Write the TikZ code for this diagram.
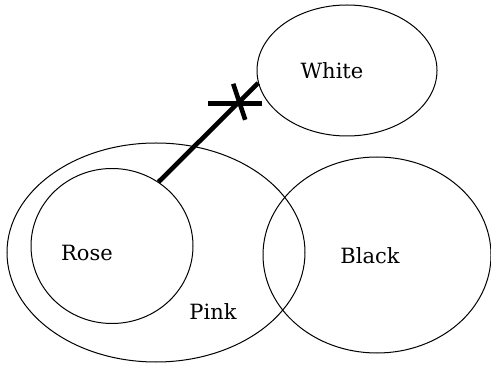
\documentclass[tikz,border=0pt]{standalone}
\usepackage{fontspec}
\setmainfont{DejaVu Serif}
\usetikzlibrary{shapes.geometric, calc}

\begin{document}
\begin{tikzpicture}[
    x = 0.5pt, y = -0.5pt,
    font = \fontsize{10.5}{12}\selectfont,
    set/.style = {ellipse, draw, line width = 0.5pt, inner sep = 0pt},
    word/.style = {inner sep = 0pt, text = black},
    bold/.style = {line width = 2.3pt}
    ]
    \useasboundingbox (0,0) rectangle (491,367);
    \node[
    set,
    minimum width = 149pt,
    minimum height = 109.5pt
    ] (pink) at (156,252.5){};
    \node[
    set,
    minimum width = 81pt,
    minimum height = 77.5pt
    ] (rose) at (112,246){};
    \node[
    set,
    minimum width = 114pt,
    minimum height = 98pt
    ] (black) at (377,255){};
    \node[
    set,
    minimum width = 90pt,
    minimum height = 65.5pt
    ] (white) at (347,70.5){};
    \node[word] (lwhite) at (332,71){White};
    \node[word] (lrose) at (87,253){Rose};
    \node[word] (lblack) at (370,256){Black};
    \node[word] (lpink) at (213,312){Pink};
    \draw[bold] (rose.54.5) -- coordinate[pos=0.79] (cut) (white.188);
    \draw[bold] ($(cut) + (-29,0)$) to ($(cut) + (25,0)$);
    \draw[bold] ($(cut) + (-4,-20)$) to ($(cut) + (8,16)$);
  \end{tikzpicture}
\end{document}
